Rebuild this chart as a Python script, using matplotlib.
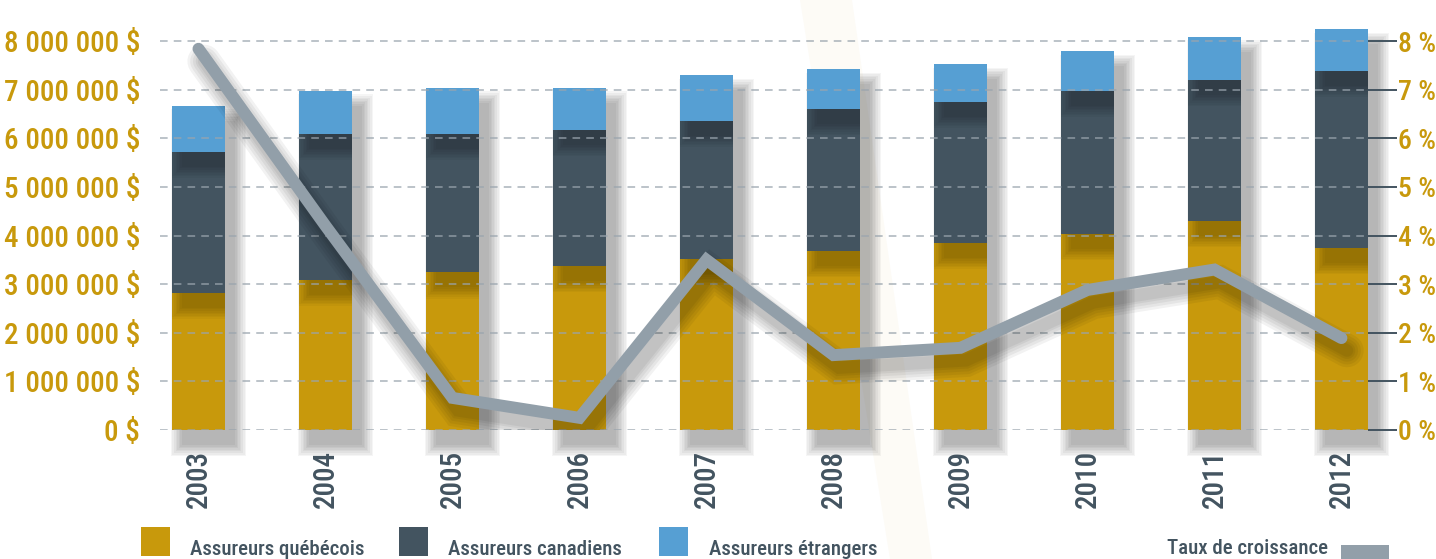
import matplotlib
matplotlib.use("Agg")
import matplotlib.pyplot as plt
import matplotlib.patheffects as pe
from matplotlib import font_manager
from matplotlib.patches import Rectangle, Polygon
import numpy as np

# data (millions of $ and %)
years = ["2003", "2004", "2005", "2006", "2007", "2008", "2009", "2010", "2011", "2012"]
quebec = [2.82, 3.09, 3.24, 3.37, 3.52, 3.68, 3.85, 4.03, 4.30, 3.74]
canada = [2.90, 3.00, 2.85, 2.80, 2.84, 2.92, 2.90, 2.95, 2.90, 3.65]
foreign = [0.95, 0.89, 0.95, 0.87, 0.94, 0.83, 0.78, 0.82, 0.89, 0.86]
growth = [7.84, 4.2, 0.66, 0.25, 3.5, 1.54, 1.69, 2.88, 3.3, 1.89]
left_ticks = [0, 1, 2, 3, 4, 5, 6, 7, 8]
left_labels = ["0 $", "1 000 000 $", "2 000 000 $", "3 000 000 $", "4 000 000 $",
               "5 000 000 $", "6 000 000 $", "7 000 000 $", "8 000 000 $"]
right_ticks = [0, 1, 2, 3, 4, 5, 6, 7, 8]
right_labels = ["%d %%" % v for v in right_ticks]
legend_names = ["Assureurs québécois", "Assureurs canadiens", "Assureurs étrangers"]

GOLD = "#c8990c"
SLATE = "#435460"
BLUE = "#569fd3"
LINE = "#929fa9"
GRID = "#9aa5ae"


def pick_font(names):
    for n in names:
        try:
            font_manager.findfont(font_manager.FontProperties(family=n), fallback_to_default=False)
            return n
        except ValueError:
            pass
    return "DejaVu Sans"


FONT = pick_font(["Liberation Sans Narrow", "Roboto Condensed", "Open Sans Condensed", "Liberation Sans"])
plt.rcParams["font.family"] = [FONT, "DejaVu Sans"]
plt.rcParams["font.weight"] = 500

W, H = 1436, 559
fig = plt.figure(figsize=(W / 100, H / 100), dpi=100)

# faint spotlight in the background
fig.patches.append(Polygon([(800 / W, 1), (852 / W, 1), (932 / W, 0), (890 / W, 0)],
                           closed=True, transform=fig.transFigure, color="#fdfbf6",
                           lw=0, zorder=-10))

ax = fig.add_axes([160 / W, (H - 430) / H, (1368 - 160) / W, 430 / H])
ax.patch.set_alpha(0)
px_y = 48.625  # px per million
ymax = 430 / px_y
x = np.arange(len(years))
bw = 53 / 127
ax.set_xlim(-0.303, 9.209)
ax.set_ylim(0, ymax)

dxp = 10 / 127       # shadow offset right
dyp = 15 / px_y      # shadow offset down
ex = 1.6 / 127
ey = 1.6 / px_y


def shadow(x0, y0, w, h, clip=None, n=8, a=0.045, z=1):
    for k in range(n):
        r = Rectangle((x0 + dxp - k * ex, y0 - dyp - k * ey), w + 2 * k * ex, h + 2 * k * ey,
                      color="black", alpha=a, lw=0, zorder=z, clip_on=clip is not None)
        ax.add_patch(r)
        if clip is not None:
            r.set_clip_path(clip)


tot = np.array(quebec) + np.array(canada) + np.array(foreign)
for i in range(len(years)):
    left = x[i] - bw / 2
    shadow(left, 0, bw, tot[i], a=0.04)
    segs = [(0, quebec[i], GOLD), (quebec[i], canada[i], SLATE),
            (quebec[i] + canada[i], foreign[i], BLUE)]
    patches = []
    for b, h, c in segs:
        p = Rectangle((left, b), bw, h, color=c, lw=0, zorder=2)
        ax.add_patch(p)
        patches.append(p)
    # shadow of each upper segment onto the one below
    for j in (1, 2):
        b, h, c = segs[j]
        shadow(left, b, bw, h, clip=patches[j - 1], n=8, a=0.032, z=2.5)

for v in left_ticks:
    ax.axhline(v, color=GRID, lw=1.1, ls=(0, (5, 4)), zorder=3, alpha=0.85)

for s in ax.spines.values():
    s.set_visible(False)
ax.set_yticks(left_ticks)
ax.set_yticklabels(left_labels)
ax.tick_params(axis="y", length=0, pad=14.4, labelcolor=GOLD, labelsize=21)
ax.set_xticks(x)
ax.set_xticklabels(years, rotation=90)
ax.tick_params(axis="x", length=0, pad=14, labelcolor=SLATE, labelsize=21)

ax2 = ax.twinx()
ax2.set_ylim(0, ymax)
for s in ax2.spines.values():
    s.set_visible(False)
ax2.set_yticks(right_ticks)
ax2.set_yticklabels(right_labels)
ax2.tick_params(axis="y", direction="out", length=20.9, width=1.4, color=SLATE,
                pad=0.5, labelcolor=GOLD, labelsize=20)

effects = [pe.SimpleLineShadow(offset=(4, -9), shadow_color="black", alpha=0.05, linewidth=lw)
           for lw in (24, 20, 16, 12, 9)]
effects.append(pe.Normal())
ax2.plot(x, growth, color=LINE, lw=8.6, solid_capstyle="round", solid_joinstyle="miter",
         zorder=5, path_effects=effects)

# legend drawn by hand at the bottom
sq = 29
for xs, xt, c, name in zip([141, 399, 659], [190, 448, 709], [GOLD, SLATE, BLUE], legend_names):
    fig.patches.append(Rectangle((xs / W, (H - 556) / H), sq / W, sq / H, color=c,
                                 transform=fig.transFigure, lw=0))
    fig.text(xt / W, (H - 555) / H, name, color=SLATE, fontsize=15, va="baseline", ha="left")
fig.text(1167 / W, (H - 554) / H, "Taux de croissance", color=SLATE, fontsize=15,
         va="baseline", ha="left")
fig.patches.append(Rectangle((1341 / W, (H - 562) / H), 48 / W, 17 / H, color=LINE,
                             transform=fig.transFigure, lw=0))

fig.savefig("out.png", dpi=100)
